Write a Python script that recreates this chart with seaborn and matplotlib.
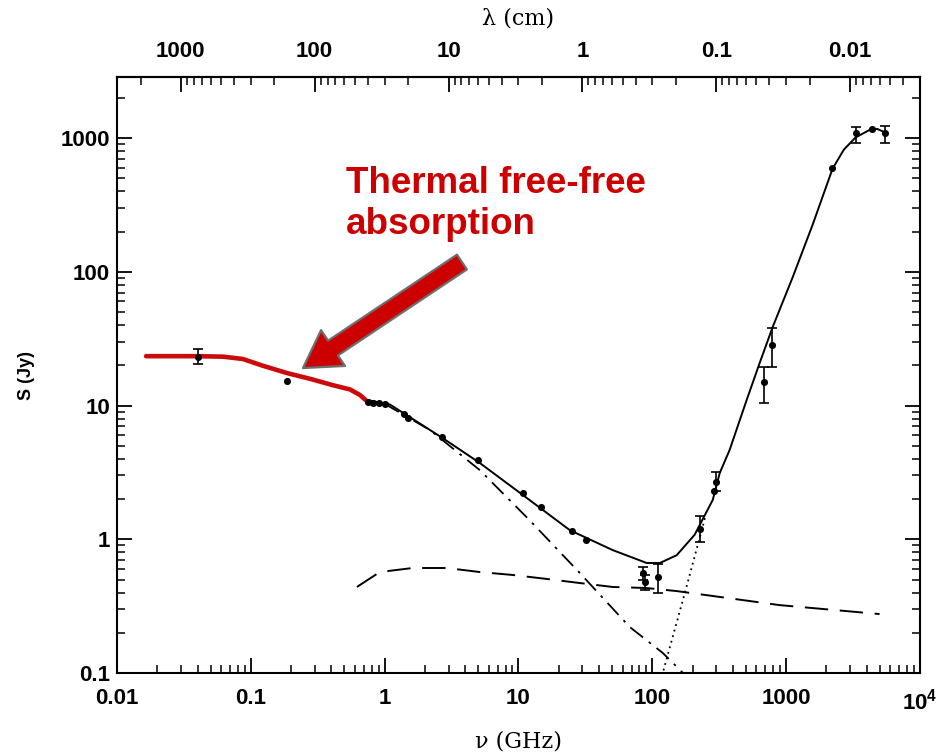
import numpy as np
import matplotlib
matplotlib.use("Agg")
import matplotlib.pyplot as plt
from matplotlib.ticker import FixedLocator, LogLocator, NullFormatter
import seaborn as sns

# Total model spectrum (solid)
total_nu = [0.74, 1.09, 1.54, 2.72, 5.14, 10.8, 24.2, 50.6, 90.8, 114, 152, 207,
            283, 319, 378, 507, 634, 793, 1119, 1578, 2223, 2700, 3300, 4200, 4800, 5400]
total_s = [11.0, 10.2, 8.2, 5.7, 3.72, 2.14, 1.17, 0.83, 0.665, 0.665, 0.76, 1.08,
           1.97, 3.13, 4.65, 11.0, 20.8, 38.6, 91.0, 225, 590, 820, 1010, 1150, 1170, 1110]

# Low-frequency turnover (free-free absorbed part)
absorb_nu = [0.0165, 0.040, 0.062, 0.087, 0.12, 0.186, 0.28, 0.41, 0.55, 0.653, 0.736]
absorb_s = [23.4, 23.4, 23.2, 22.3, 20.0, 17.5, 15.8, 14.2, 13.2, 12.0, 10.8]

# Non-thermal synchrotron component (dash-dot)
sync_nu = [1.0, 2.18, 5.14, 12.1, 28.7, 67.8, 120, 175]
sync_s = [10.3, 6.56, 3.29, 1.39, 0.56, 0.221, 0.141, 0.097]

# Thermal free-free emission component (dashed)
ff_nu = [0.62, 0.92, 1.62, 2.91, 5.14, 9.06, 16.3, 28.7, 50.6, 90.8, 152, 894, 4990]
ff_s = [0.44, 0.569, 0.61, 0.61, 0.569, 0.541, 0.505, 0.471, 0.44, 0.432, 0.41, 0.322, 0.276]

# Thermal dust component (dotted)
dust_nu = [118, 180, 250]
dust_s = [0.095, 0.44, 1.5]

# Measured flux densities
pt_nu = [0.040, 0.186, 0.75, 0.82, 0.90, 1.0, 1.4, 1.5, 2.7, 5.0, 10.8, 14.7, 25, 32,
         85, 88, 110, 226, 290, 300, 680, 780, 2220, 3300, 4350, 5440]
pt_s = [23.0, 15.3, 10.6, 10.5, 10.4, 10.3, 8.6, 8.1, 5.8, 3.9, 2.2, 1.75, 1.15, 0.98,
        0.56, 0.48, 0.52, 1.2, 2.3, 2.7, 15.0, 28.3, 597, 1090, 1170, 1090]

# Error bars (frequency, value, lower, upper)
err_nu = [0.040, 85, 88, 110, 226, 300, 680, 780, 3300, 5440]
err_s = [23.0, 0.56, 0.48, 0.52, 1.2, 2.7, 15.0, 28.3, 1090, 1090]
err_lo = [20.4, 0.50, 0.42, 0.40, 0.95, 2.3, 10.4, 19.4, 920, 920]
err_hi = [26.4, 0.62, 0.54, 0.65, 1.5, 3.2, 19.4, 37.9, 1220, 1230]

nu_ticks = [0.01, 0.1, 1, 10, 100, 1000, 1e4]
nu_labels = ["0.01", "0.1", "1", "10", "100", "1000", "$10^{4}$"]
s_ticks = [0.1, 1, 10, 100, 1000]
s_labels = ["0.1", "1", "10", "100", "1000"]
lam_ticks = [1000, 100, 10, 1, 0.1, 0.01]
lam_labels = ["1000", "100", "10", "1", "0.1", "0.01"]

sns.set_theme(style="ticks")
plt.rcParams["font.family"] = ["Liberation Sans", "DejaVu Sans"]
plt.rcParams["font.weight"] = "bold"
plt.rcParams["mathtext.fontset"] = "custom"
plt.rcParams["mathtext.default"] = "regular"
plt.rcParams["axes.linewidth"] = 1.5

fig = plt.figure(figsize=(9.49, 7.53), dpi=100)
ax = fig.add_axes([0.1233, 0.1062, 0.8461, 0.7915])
ax.set_xscale("log")
ax.set_yscale("log")

red = "#cc0c0c"
sns.lineplot(x=absorb_nu, y=absorb_s, ax=ax, color=red, lw=3.3, sort=False,
             estimator=None, zorder=4)
sns.lineplot(x=total_nu, y=total_s, ax=ax, color="black", lw=1.4, sort=False,
             estimator=None, zorder=3)
sns.lineplot(x=sync_nu, y=sync_s, ax=ax, color="black", lw=1.3, sort=False,
             estimator=None, linestyle=(0, (9, 4, 1.5, 4)), zorder=3)
sns.lineplot(x=ff_nu, y=ff_s, ax=ax, color="black", lw=1.4, sort=False,
             estimator=None, linestyle=(0, (12, 6)), zorder=3)
sns.lineplot(x=dust_nu, y=dust_s, ax=ax, color="black", lw=1.3, sort=False,
             estimator=None, linestyle=(0, (1, 2.2)), zorder=3)

ax.errorbar(err_nu, err_s,
            yerr=[np.array(err_s) - np.array(err_lo), np.array(err_hi) - np.array(err_s)],
            fmt="none", ecolor="black", elinewidth=1.2, capsize=3.5, capthick=1.2, zorder=5)
sns.scatterplot(x=pt_nu, y=pt_s, ax=ax, color="black", s=26, marker="o",
                linewidth=0, zorder=6)

ax.set_xlim(0.01, 1e4)
ax.set_ylim(0.1, 2860)

ax.xaxis.set_major_locator(FixedLocator(nu_ticks))
ax.set_xticklabels(nu_labels)
ax.xaxis.set_minor_locator(LogLocator(base=10, subs=np.arange(2, 10), numticks=20))
ax.xaxis.set_minor_formatter(NullFormatter())
ax.yaxis.set_major_locator(FixedLocator(s_ticks))
ax.set_yticklabels(s_labels)
ax.yaxis.set_minor_locator(LogLocator(base=10, subs=np.arange(2, 10), numticks=20))
ax.yaxis.set_minor_formatter(NullFormatter())

ax.tick_params(axis="x", which="both", direction="in", top=False, bottom=True,
               labelsize=16, pad=11, color="black", labelcolor="black")
ax.tick_params(axis="y", which="both", direction="in", left=True, right=True,
               labelsize=16, pad=5, color="black", labelcolor="black")
ax.tick_params(which="major", length=11, width=1.3)
ax.tick_params(which="minor", length=5.5, width=1.1)
for sp in ax.spines.values():
    sp.set_color("black")
    sp.set_linewidth(1.5)


def nu_to_lam(v):
    v = np.asarray(v, dtype=float)
    with np.errstate(divide="ignore"):
        return 30.0 / v


secax = ax.secondary_xaxis("top", functions=(nu_to_lam, nu_to_lam))
secax.set_ticks(lam_ticks, labels=lam_labels)
secax.xaxis.set_minor_locator(LogLocator(base=10, subs=np.arange(2, 10), numticks=20))
secax.xaxis.set_minor_formatter(NullFormatter())
secax.tick_params(which="both", direction="in", labelsize=16, pad=11, color="black",
                  labelcolor="black")
secax.tick_params(which="major", length=11, width=1.3)
secax.tick_params(which="minor", length=5.5, width=1.1)
secax.spines["top"].set_linewidth(1.5)
secax.spines["top"].set_color("black")
secax.set_xlabel("λ (cm)", family="DejaVu Serif", fontweight="normal", fontsize=16,
                 labelpad=12, color="black")

ax.set_xlabel("ν (GHz)", family="DejaVu Serif", fontweight="normal", fontsize=16,
              labelpad=12, color="black")
ax.set_ylabel("S (Jy)", fontsize=13, fontweight="bold", color="black")
ax.yaxis.set_label_coords(-0.102, 0.5)

ax.text(0.285, 0.787, "Thermal free-free\nabsorption", transform=ax.transAxes,
        color="#cc0000", fontsize=26.5, fontweight="bold", ha="left", va="center",
        linespacing=1.2, zorder=8)
ax.annotate("", xy=(0.2316, 0.5117), xytext=(0.4296, 0.6896),
            xycoords="axes fraction", textcoords="axes fraction",
            arrowprops=dict(arrowstyle="simple,head_length=1.3,head_width=1.55,tail_width=0.64",
                            fc="#cc0000", ec="#6e6e6e", lw=1.6, shrinkA=0, shrinkB=0,
                            mutation_scale=20),
            zorder=8)

fig.savefig("out.png", dpi=100, facecolor="white")
